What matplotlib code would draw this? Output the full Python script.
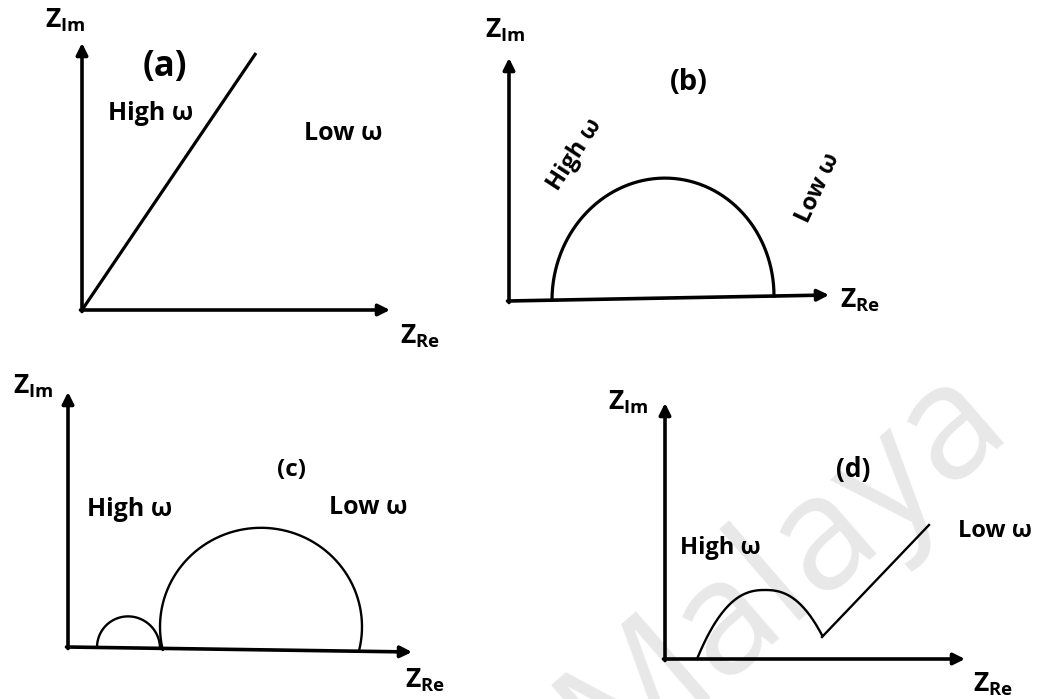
import numpy as np
import matplotlib.pyplot as plt

W, H = 1042, 699

plt.rcParams['font.family'] = ['Open Sans', 'DejaVu Sans']
plt.rcParams['font.weight'] = 'bold'
plt.rcParams['mathtext.fontset'] = 'custom'
plt.rcParams['mathtext.bf'] = 'Open Sans:bold'
plt.rcParams['mathtext.rm'] = 'Open Sans:bold'

# (a) pure capacitive line
a_re = [0, 174]
a_im = [0, 257]
a_axis_end = [308, 267]          # Z_Re end, Z_Im end

# (b) single semicircle: centre on Z_Re, radii in Re/Im
b_centre = 154
b_rx, b_ry = 111, 120
b_axis_end = [320, 243]
b_axis_tilt = 6                  # Z_Re axis rises slightly to the right

# (c) two arcs
c_small_centre, c_small_r = 60.5, 31.5
c_big_centre, c_big_lift = 193, 23
c_big_rx, c_big_ry = 101, 99
c_axis_end = [344, 255]
c_axis_tilt = -5

# (d) arc + Warburg line
d_arc_start, d_arc_top, d_arc_end = 32, 100, 157
d_arc_height = 69
d_arc_power = 2.4
d_tail_re = [157, 264]
d_tail_im = [22, 134]
d_axis_end = [300, 256]


def panel(fig, ox, oy):
    # one overlay axes per panel, 1 unit = 1 px, origin at the axes corner
    ax = fig.add_axes([0, 0, 1, 1])
    ax.set_xlim(-ox, W - ox)
    ax.set_ylim(oy - H, oy)
    ax.axis('off')
    ax.patch.set_alpha(0)
    return ax


def arrows(ax, re_end, im_end, tilt=0):
    style = dict(arrowstyle='-|>', lw=2.6, color='black',
                 mutation_scale=17, shrinkA=0, shrinkB=0)
    ax.annotate('', xy=(re_end, tilt), xytext=(-1.5, 0), arrowprops=style)
    ax.annotate('', xy=(0, im_end), xytext=(0, -1.5), arrowprops=style)


def zlabels(ax, im_pos, re_pos):
    ax.text(*im_pos, r'$\mathbf{Z}_{\mathbf{Im}}$', fontsize=19,
            ha='left', va='baseline')
    ax.text(*re_pos, r'$\mathbf{Z}_{\mathbf{Re}}$', fontsize=19,
            ha='left', va='baseline')


fig = plt.figure(figsize=(W / 100, H / 100), dpi=100)
fig.patch.set_facecolor('white')

# ---- (a)
ax = panel(fig, 82, 310)
arrows(ax, *a_axis_end)
ax.plot(a_re, a_im, color='black', lw=2.3, solid_capstyle='butt')
zlabels(ax, (-37, 282), (318, -33))
ax.text(83, 243, '(a)', fontsize=25, ha='center', va='center')
ax.text(69, 196, 'High ω', fontsize=18, ha='center', va='center')
ax.text(261, 177, 'Low ω', fontsize=18, ha='center', va='center')

# ---- (b)
ax = panel(fig, 509, 301)
arrows(ax, b_axis_end[0], b_axis_end[1], b_axis_tilt)
t = np.linspace(0, np.pi, 200)
x = b_centre + b_rx * np.cos(t)
base = x * b_axis_tilt / b_axis_end[0]
ax.plot(x, base + b_ry * np.sin(t), color='black', lw=2.3)
zlabels(ax, (-24, 264), (331, -7))
ax.text(180, 219, '(b)', fontsize=21, ha='center', va='center')
ax.text(66, 146, 'High ω', fontsize=17, ha='center', va='center',
        rotation=57, rotation_mode='anchor')
ax.text(309, 113, 'Low ω', fontsize=17, ha='center', va='center',
        rotation=65, rotation_mode='anchor')

# ---- (c)
ax = panel(fig, 68, 647)
arrows(ax, c_axis_end[0], c_axis_end[1], c_axis_tilt)
slope = c_axis_tilt / c_axis_end[0]
x = c_small_centre + c_small_r * np.cos(t)
ax.plot(x, x * slope + c_small_r * np.sin(t), color='black', lw=1.7)
# big arc is a little more than half an ellipse, cut by the Z_Re axis
cut = np.arcsin(c_big_lift / c_big_ry)
t2 = np.linspace(-cut, np.pi + cut, 300)
x = c_big_centre + c_big_rx * np.cos(t2)
ax.plot(x, c_big_centre * slope + c_big_lift + c_big_ry * np.sin(t2),
        color='black', lw=1.7)
zlabels(ax, (-55, 254), (337, -41))
ax.text(224, 177, '(c)', fontsize=17.5, ha='center', va='center')
ax.text(62, 138, 'High ω', fontsize=18, ha='center', va='center')
ax.text(300, 140, 'Low ω', fontsize=18, ha='center', va='center')

# ---- (d)
ax = panel(fig, 665, 659)
ax.text(118, 93, 'Malaya', fontsize=115, fontweight='normal',
        color='#e8e8e8', ha='center', va='center', rotation=41,
        rotation_mode='anchor', zorder=0)
arrows(ax, d_axis_end[0], d_axis_end[1])
w = d_arc_top - d_arc_start
x = np.linspace(d_arc_start, d_arc_end, 200)
y = d_arc_height * (1 - np.abs((x - d_arc_top) / w) ** d_arc_power)
ax.plot(x, y, color='black', lw=1.7)
ax.plot(d_tail_re, d_tail_im, color='black', lw=1.7)
zlabels(ax, (-57, 249), (308, -33))
ax.text(188, 189, '(d)', fontsize=19, ha='center', va='center')
ax.text(55, 111, 'High ω', fontsize=17, ha='center', va='center')
ax.text(330, 128, 'Low ω', fontsize=17, ha='center', va='center')

fig.savefig('out.png', dpi=100, facecolor='white')
